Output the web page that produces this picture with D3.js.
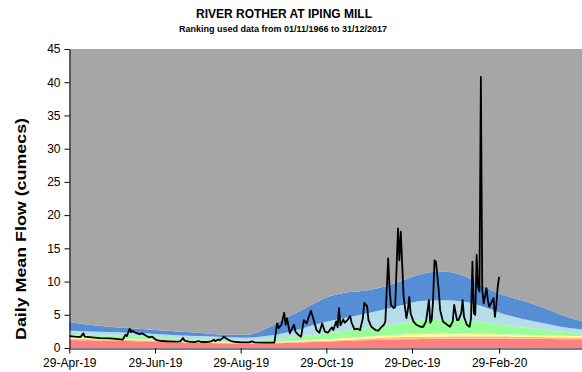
<!DOCTYPE html>
<html><head><meta charset="utf-8">
<script src="https://cdn.jsdelivr.net/npm/d3@7"></script>
<style>body{margin:0;background:#fff}svg{display:block}text{font-family:"Liberation Sans",Arial,sans-serif}</style>
</head><body><svg id="c" width="582" height="372"></svg>
<script>
const bandDates = ["2019-04-29","2019-05-13","2019-05-27","2019-06-10","2019-06-24","2019-07-08","2019-07-22","2019-08-05","2019-08-19","2019-09-02","2019-09-16","2019-09-30","2019-10-14","2019-10-28","2019-11-11","2019-11-25","2019-12-09","2019-12-23","2020-01-06","2020-01-20","2020-02-03","2020-02-17","2020-03-02","2020-03-16","2020-03-30","2020-04-13","2020-04-28"];
const redTop    = [1.2,1.15,1.1,1.05,1.0,0.9,0.8,0.75,0.7,0.65,0.7,0.75,0.85,0.95,1.05,1.15,1.25,1.3,1.35,1.4,1.4,1.4,1.4,1.38,1.35,1.32,1.3];
const orangeTop = [1.4,1.35,1.3,1.22,1.15,1.05,0.95,0.88,0.8,0.75,0.8,0.88,1.0,1.12,1.25,1.4,1.55,1.65,1.7,1.72,1.75,1.75,1.75,1.7,1.65,1.6,1.55];
const yellowTop = [1.6,1.55,1.5,1.4,1.3,1.15,1.05,0.98,0.9,0.85,0.9,1.0,1.15,1.3,1.5,1.7,1.9,2.05,2.15,2.2,2.2,2.15,2.05,2.0,1.95,1.85,1.8];
const greenTop  = [2.1,2.0,1.9,1.8,1.7,1.5,1.35,1.25,1.15,1.1,1.2,1.45,1.8,2.2,2.6,3.0,3.3,3.8,4.3,4.4,4.2,3.9,3.5,3.1,2.8,2.5,2.2];
const lightBlueTop = [2.6,2.5,2.4,2.3,2.2,2.0,1.85,1.75,1.6,1.55,1.8,2.3,3.1,3.9,4.5,5.1,5.8,6.5,7.1,7.2,7.0,6.3,5.2,4.4,3.8,3.2,2.8];
const blueTop   = [3.9,3.5,3.2,3.0,2.8,2.6,2.4,2.2,2.0,2.0,2.9,4.5,6.0,7.5,8.3,8.6,9.2,10.2,11.2,11.5,10.9,9.4,8.0,7.2,6.2,5.0,4.0];
const grayTop   = 45;
const bandColors = ["#FF8080","#FFC080","#FFFF99","#99FF99","#B7DEE8","#558ED5","#A6A6A6"];

const flowDates = ["2019-04-29","2019-05-03","2019-05-07","2019-05-09","2019-05-10","2019-05-15","2019-05-21","2019-05-28","2019-06-03","2019-06-06","2019-06-08","2019-06-09","2019-06-11","2019-06-12","2019-06-13","2019-06-15","2019-06-18","2019-06-20","2019-06-23","2019-06-25","2019-06-27","2019-06-30","2019-07-04","2019-07-09","2019-07-14","2019-07-17","2019-07-19","2019-07-20","2019-07-23","2019-07-27","2019-07-30","2019-08-01","2019-08-05","2019-08-08","2019-08-10","2019-08-11","2019-08-13","2019-08-14","2019-08-16","2019-08-17","2019-08-19","2019-08-22","2019-08-26","2019-08-30","2019-09-04","2019-09-06","2019-09-08","2019-09-15","2019-09-22","2019-09-24","2019-09-25","2019-09-27","2019-09-29","2019-09-30","2019-10-01","2019-10-03","2019-10-04","2019-10-06","2019-10-07","2019-10-09","2019-10-11","2019-10-13","2019-10-15","2019-10-17","2019-10-18","2019-10-20","2019-10-22","2019-10-24","2019-10-26","2019-10-28","2019-10-30","2019-11-02","2019-11-03","2019-11-05","2019-11-06","2019-11-07","2019-11-08","2019-11-10","2019-11-11","2019-11-13","2019-11-15","2019-11-16","2019-11-18","2019-11-20","2019-11-22","2019-11-24","2019-11-25","2019-11-27","2019-11-28","2019-11-30","2019-12-03","2019-12-05","2019-12-07","2019-12-09","2019-12-10","2019-12-12","2019-12-13","2019-12-14","2019-12-16","2019-12-17","2019-12-19","2019-12-20","2019-12-21","2019-12-23","2019-12-25","2019-12-26","2019-12-27","2019-12-28","2019-12-30","2020-01-01","2020-01-04","2020-01-06","2020-01-08","2020-01-10","2020-01-11","2020-01-12","2020-01-13","2020-01-14","2020-01-15","2020-01-17","2020-01-18","2020-01-20","2020-01-23","2020-01-25","2020-01-27","2020-01-28","2020-01-30","2020-01-31","2020-02-02","2020-02-03","2020-02-04","2020-02-06","2020-02-08","2020-02-09","2020-02-10","2020-02-11","2020-02-12","2020-02-13","2020-02-14","2020-02-15","2020-02-16","2020-02-17","2020-02-18","2020-02-20","2020-02-21","2020-02-22","2020-02-25","2020-02-26","2020-02-27","2020-02-28","2020-02-29"];
const flowValues = [1.8,1.7,1.65,2.2,1.7,1.6,1.5,1.45,1.35,1.25,2.0,1.8,2.9,2.4,2.6,2.3,2.1,2.2,1.8,1.6,1.7,1.2,1.05,1.0,0.95,1.0,1.5,1.1,0.95,0.9,1.05,0.9,0.9,1.0,1.25,1.0,1.3,1.15,1.45,1.7,1.4,1.05,0.9,0.85,0.85,1.0,0.85,0.8,0.8,3.7,3.0,3.5,5.3,3.5,4.5,2.2,2.7,3.5,2.45,2.0,1.7,4.2,3.7,5.0,5.6,4.2,2.7,2.3,3.7,2.45,2.3,3.1,2.7,4.0,3.1,6.0,3.4,4.3,3.8,4.2,4.8,3.8,2.8,2.9,2.7,4.5,6.8,6.3,4.2,3.2,2.7,2.6,3.1,3.5,4.0,13.5,9.0,6.5,6.0,6.2,18.0,13.2,17.5,7.7,4.5,5.7,7.7,5.2,4.0,3.5,3.2,3.2,4.0,7.2,3.8,4.2,7.2,13.2,13.0,8.7,5.7,4.0,3.5,3.2,4.0,6.5,4.2,4.2,5.2,7.2,4.7,3.5,3.2,4.5,13.0,5.2,5.0,14.0,9.2,8.5,40.8,8.7,6.7,9.0,7.2,6.2,7.5,4.7,6.5,9.2,10.7];

const xTickDates = ["2019-04-29","2019-06-29","2019-08-29","2019-10-29","2019-12-29","2020-02-29"];
const yTickValues = [0,5,10,15,20,25,30,35,40,45];
const titleText = "RIVER ROTHER AT IPING MILL";
const subtitleText = "Ranking used data from 01/11/1966 to 31/12/2017";
const yLabel = "Daily Mean Flow (cumecs)";

const parse = d3.timeParse("%Y-%m-%d");
const svg = d3.select("#c");
const x = d3.scaleTime().domain([parse("2019-04-29"), parse("2020-04-28")]).range([69.3, 582]);
const y = d3.scaleLinear().domain([0, 45]).range([348, 49]);

const tops = [redTop, orangeTop, yellowTop, greenTop, lightBlueTop, blueTop, bandDates.map(() => grayTop)];
const bd = bandDates.map(parse);
tops.forEach((arr, i) => {
  const lower = i === 0 ? arr.map(() => 0) : tops[i - 1];
  const area = d3.area()
    .x((d, j) => x(bd[j]))
    .y0((d, j) => y(lower[j]))
    .y1((d, j) => y(arr[j]))
    .curve(d3.curveMonotoneX);
  svg.append("path").datum(arr).attr("d", area).attr("fill", bandColors[i]);
});

const fd = flowDates.map(parse);
const line = d3.line().x((d, i) => x(fd[i])).y(d => y(d));
svg.append("path").datum(flowValues).attr("d", line)
  .attr("fill", "none").attr("stroke", "#000").attr("stroke-width", 1.8).attr("stroke-linejoin", "round");

const yAxis = svg.append("g").attr("transform", "translate(69.5,0)")
  .call(d3.axisLeft(y).tickValues(yTickValues).tickSize(5).tickSizeOuter(0).tickPadding(4));
yAxis.selectAll("text").attr("font-size", 12).attr("fill", "#000").style("font-family", "'Liberation Sans',Arial,sans-serif");
yAxis.select(".domain").attr("stroke", "#000");

const fmt = d3.timeFormat("%d-%b-%y");
const xAxis = svg.append("g").attr("transform", "translate(0,348.5)")
  .call(d3.axisBottom(x).tickValues(xTickDates.map(parse)).tickFormat(fmt).tickSize(5).tickSizeOuter(0).tickPadding(5));
xAxis.selectAll("text").attr("font-size", 12).attr("fill", "#000").style("font-family", "'Liberation Sans',Arial,sans-serif");
xAxis.select(".domain").attr("stroke", "#000");

svg.append("text").attr("x", 284).attr("y", 17.5).attr("text-anchor", "middle")
  .attr("font-size", 12).attr("font-weight", "bold").text(titleText);
svg.append("text").attr("x", 283).attr("y", 31.5).attr("text-anchor", "middle")
  .attr("font-size", 9).attr("font-weight", "bold").text(subtitleText);
svg.append("text").attr("transform", "translate(26,229) rotate(-90)").attr("text-anchor", "middle")
  .attr("font-size", 14).attr("font-weight", "bold")
  .attr("textLength", 222).attr("lengthAdjust", "spacingAndGlyphs").text(yLabel);
</script></body></html>
